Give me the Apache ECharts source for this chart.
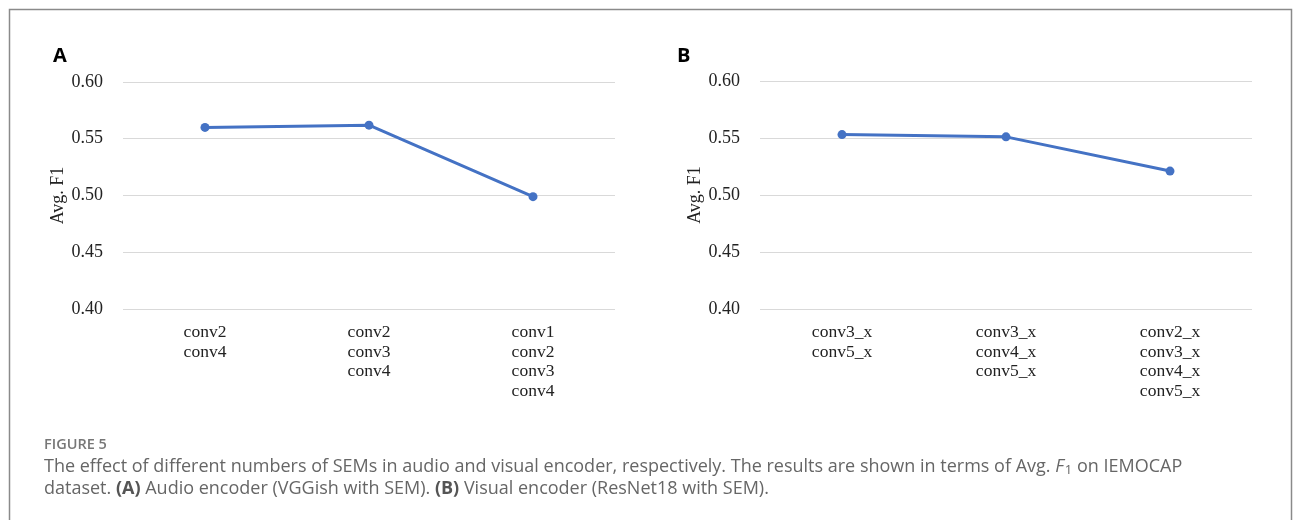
<!DOCTYPE html>
<html>
<head>
<meta charset="utf-8">
<script src="https://cdn.jsdelivr.net/npm/echarts@6/dist/echarts.min.js"></script>
<style>
html,body{margin:0;padding:0;background:#fff;}
#chart{width:1296px;height:520px;}
</style>
</head>
<body>
<div id="chart"></div>
<script>
const categoriesA = ['conv2\nconv4', 'conv2\nconv3\nconv4', 'conv1\nconv2\nconv3\nconv4'];
const valuesA = [0.560, 0.562, 0.499];
const categoriesB = ['conv3_x\nconv5_x', 'conv3_x\nconv4_x\nconv5_x', 'conv2_x\nconv3_x\nconv4_x\nconv5_x'];
const valuesB = [0.553, 0.551, 0.521];
const yMin = 0.40, yMax = 0.60, yStep = 0.05;
const yAxisTitle = 'Avg. F1';

const chart = echarts.init(document.getElementById('chart'));
const serif = '"Liberation Serif", "Times New Roman", serif';
const sans = '"Open Sans", "Noto Sans", sans-serif';
const lineColor = '#4472C4';

function makeY(idx) {
  return {
    type: 'value', gridIndex: idx, min: yMin, max: yMax, interval: yStep,
    name: yAxisTitle, nameLocation: 'middle', nameGap: 55, nameRotate: 90,
    nameTextStyle: {fontFamily: serif, fontSize: 18, color: '#222'},
    axisLine: {show: false}, axisTick: {show: false},
    axisLabel: {formatter: v => v.toFixed(2), fontFamily: serif, fontSize: 18, color: '#222', margin: 20},
    splitLine: {lineStyle: {color: '#d9d9d9', width: 1}}
  };
}
function makeX(idx, cats) {
  return {
    type: 'category', gridIndex: idx, data: cats, boundaryGap: true,
    axisLine: {show: false}, axisTick: {show: false},
    axisLabel: {fontFamily: serif, fontSize: 17.5, color: '#222', margin: 14, lineHeight: 19.5, interval: 0}
  };
}
function makeSeries(idx, vals) {
  return {
    type: 'line', xAxisIndex: idx, yAxisIndex: idx, data: vals,
    symbol: 'circle', symbolSize: 9,
    lineStyle: {color: lineColor, width: 3},
    itemStyle: {color: lineColor},
    animation: false
  };
}

chart.setOption({
  animation: false,
  title: [
    {text: 'A', left: 48, top: 41, textStyle: {fontFamily: sans, fontSize: 20, fontWeight: 'bold', color: '#000'}},
    {text: 'B', left: 672, top: 41, textStyle: {fontFamily: sans, fontSize: 20, fontWeight: 'bold', color: '#000'}},
    {text: 'FIGURE 5', left: 39, top: 432, textStyle: {fontFamily: sans, fontSize: 14.5, fontWeight: 600, color: '#777'}},
    {
      text: 'The effect of different numbers of SEMs in audio and visual encoder, respectively. The results are shown in terms of Avg. {i|F}{sub|1} on IEMOCAP',
      left: 39, top: 452,
      textStyle: {fontFamily: sans, fontSize: 18, fontWeight: 'normal', color: '#666',
        rich: {
          i: {fontFamily: sans, fontSize: 18, fontStyle: 'italic', color: '#666'},
          sub: {fontFamily: sans, fontSize: 13, color: '#666', padding: [7, 0, 0, 1]}
        }}
    },
    {
      text: 'dataset. {b|(A)} Audio encoder (VGGish with SEM). {b|(B)} Visual encoder (ResNet18 with SEM).',
      left: 39, top: 475,
      textStyle: {fontFamily: sans, fontSize: 18, fontWeight: 'normal', color: '#666',
        rich: {b: {fontFamily: sans, fontSize: 18, fontWeight: 'bold', color: '#555'}}}
    }
  ],
  graphic: [
    {type: 'rect', shape: {x: 9.5, y: 9.5, width: 1282, height: 520}, style: {fill: 'none', stroke: '#8a8a8a', lineWidth: 1.5}, silent: true}
  ],
  grid: [
    {left: 123, top: 82, width: 492, height: 227},
    {left: 760, top: 81, width: 492, height: 228}
  ],
  xAxis: [makeX(0, categoriesA), makeX(1, categoriesB)],
  yAxis: [makeY(0), makeY(1)],
  series: [makeSeries(0, valuesA), makeSeries(1, valuesB)]
});
</script>
</body>
</html>
